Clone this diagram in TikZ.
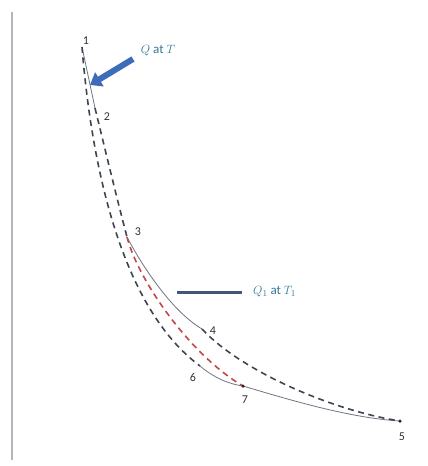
\documentclass[tikz,border=0pt]{standalone}
\usepackage{fontspec}
\setmainfont{Carlito}
\usetikzlibrary{arrows.meta}
\definecolor{curvegray}{RGB}{62,68,80}
\definecolor{isogray}{RGB}{110,116,130}
\definecolor{heatred}{RGB}{196,70,70}
\definecolor{arrowblue}{RGB}{62,108,186}
\definecolor{labelteal}{RGB}{52,118,156}
\definecolor{barslate}{RGB}{70,86,120}
\definecolor{axisgray}{RGB}{178,182,188}
\tikzset{
  adiab/.style={dash pattern=on 6pt off 4.5pt, line width=1.6pt, curvegray},
  adiabred/.style={adiab, heatred},
  iso/.style={line width=0.8pt, isogray},
  ptlabel/.style={font=\fontsize{12}{14}\selectfont, text=black!80, inner sep=1pt},
  heatlabel/.style={font=\fontsize{13}{15}\selectfont, text=labelteal, inner sep=1pt},
  statedot/.style={circle, fill=black!85, inner sep=0pt, minimum size=3.5pt},
  heatarr/.style={line width=6pt, arrowblue, -{Triangle[length=11pt,width=16pt]}},
  heatbar/.style={line width=3pt, barslate},
}

\begin{document}
\begin{tikzpicture}[x=1pt, y=-1pt]
  \useasboundingbox (0,0) rectangle (428,466);
  % axis
  \draw[axisgray, line width=1.3pt] (12,12) -- (12,460);

  % states
  \coordinate (p1) at (82,47);
  \coordinate (p2) at (95,108);
  \coordinate (p3) at (127,237);
  \coordinate (p4) at (202,329);
  \coordinate (p5) at (400,421);
  \coordinate (p6) at (200,366);
  \coordinate (p7) at (243,386);

  % isotherms
  \draw[iso] (p1) -- (p2);
  \draw[iso] (p3) .. controls (140,262) and (170,310) .. (p4);
  \draw[iso] (p6) .. controls (213,377) and (228,384) .. (p7)
                  .. controls (290,400) and (350,418) .. (p5);

  % adiabats
  \draw[adiab] (p1) .. controls (92,170) and (122,308) .. (p6);
  \draw[adiab] (p2) .. controls (104,145) and (116,195) .. (p3);
  \draw[adiab] (p4) .. controls (240,370) and (330,410) .. (p5);
  \draw[adiabred] (p3) .. controls (138,280) and (190,355) .. (p7);

  \node[statedot] at (p5) {};
  \node[statedot] at (p7) {};

  % state labels
  \node[ptlabel] (l1) at (86,41) {1};
  \node[ptlabel] (l2) at (107,117) {2};
  \node[ptlabel] (l3) at (138,232) {3};
  \node[ptlabel] (l4) at (213,331) {4};
  \node[ptlabel] (l5) at (402,437) {5};
  \node[ptlabel] (l6) at (193,377) {6};
  \node[ptlabel] (l7) at (245,400) {7};

  % heat in at T
  \node[heatlabel] (qt) at (158,51) {$Q$ at $T$};
  \coordinate (qtail) at (133,59);
  \coordinate (qtip) at (90,85);
  \draw[heatarr] (qtail) -- (qtip);

  % heat at T1
  \node[heatlabel, anchor=west] (q1) at (252,292) {$Q_1$ at $T_1$};
  \coordinate (bar) at (177,292);
  \draw[heatbar] (bar) -- ([xshift=-10pt]q1.west);
\end{tikzpicture}
\end{document}
